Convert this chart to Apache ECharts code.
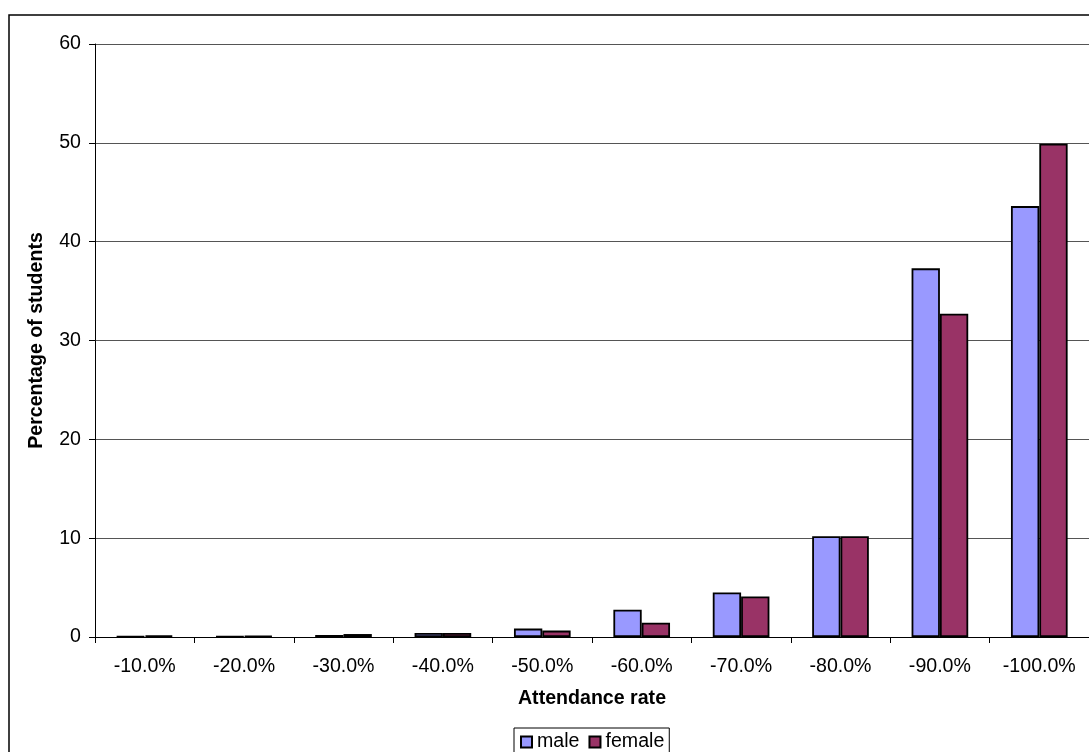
<!DOCTYPE html>
<html>
<head>
<meta charset="utf-8">
<script src="https://cdn.jsdelivr.net/npm/echarts@6/dist/echarts.min.js"></script>
<style>
  html, body { margin: 0; padding: 0; background: #fff; }
  #chart { width: 1089px; height: 752px; }
</style>
</head>
<body>
<div id="chart"></div>
<script>
// attendance bands
var categories = ["-10.0%", "-20.0%", "-30.0%", "-40.0%", "-50.0%", "-60.0%", "-70.0%", "-80.0%", "-90.0%", "-100.0%"];
var maleValues = [0.05, 0.05, 0.2, 0.4, 0.85, 2.75, 4.5, 10.2, 37.3, 43.6];
var femaleValues = [0.15, 0.1, 0.3, 0.4, 0.65, 1.45, 4.1, 10.2, 32.7, 49.9];
var yTicks = [0, 10, 20, 30, 40, 50, 60];

var font = "Liberation Sans, Arial, sans-serif";
var fs = 19.6;
var chart = echarts.init(document.getElementById("chart"));

chart.setOption({
  animation: false,
  backgroundColor: "#fff",
  textStyle: { fontFamily: font, color: "#000" },
  graphic: [
    {
      type: "rect",
      shape: { x: 9, y: 15, width: 1200, height: 800 },
      style: { fill: "none", stroke: "#000", lineWidth: 1.5 },
      silent: true
    }
  ],
  grid: {
    left: 95,
    right: 0,
    top: 44,
    bottom: 115
  },
  legend: {
    data: ["male", "female"],
    left: 514,
    top: 728,
    orient: "horizontal",
    icon: "rect",
    itemWidth: 11,
    itemHeight: 11,
    itemGap: 9,
    padding: [4, 5, 6, 6],
    borderColor: "#000",
    borderWidth: 1,
    backgroundColor: "#fff",
    textStyle: { fontFamily: font, fontSize: fs, color: "#000" }
  },
  xAxis: {
    type: "category",
    data: categories,
    name: "Attendance rate",
    nameLocation: "middle",
    nameGap: 52,
    nameTextStyle: { fontFamily: font, fontSize: fs, fontWeight: "bold", color: "#000" },
    axisLine: { lineStyle: { color: "#000", width: 1 } },
    axisTick: { show: true, length: 6, lineStyle: { color: "#000" } },
    axisLabel: { margin: 20, fontFamily: font, fontSize: fs, color: "#000", interval: 0 },
    splitLine: { show: false }
  },
  yAxis: {
    type: "value",
    min: yTicks[0],
    max: yTicks[yTicks.length - 1],
    interval: yTicks[1] - yTicks[0],
    name: "Percentage of students",
    nameLocation: "middle",
    nameRotate: 90,
    nameGap: 48,
    nameTextStyle: { fontFamily: font, fontSize: fs, fontWeight: "bold", color: "#000" },
    axisLine: { show: true, lineStyle: { color: "#000", width: 1 } },
    axisTick: { show: true, length: 6, lineStyle: { color: "#000" } },
    axisLabel: { margin: 14, fontFamily: font, fontSize: fs, color: "#000" },
    splitLine: { show: true, lineStyle: { color: "#555", width: 1 } }
  },
  series: [
    {
      name: "male",
      type: "bar",
      data: maleValues,
      barGap: "0%",
      barCategoryGap: "43%",
      itemStyle: { color: "#9999FF", borderColor: "#000", borderWidth: 1.8 }
    },
    {
      name: "female",
      type: "bar",
      data: femaleValues,
      barGap: "0%",
      barCategoryGap: "43%",
      itemStyle: { color: "#993366", borderColor: "#000", borderWidth: 1.8 }
    }
  ]
});
</script>
</body>
</html>
